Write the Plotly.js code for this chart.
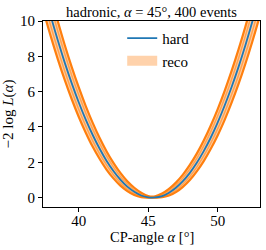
<!DOCTYPE html>
<html>
<head>
<meta charset="utf-8">
<script src="https://cdn.plot.ly/plotly-3.0.1.min.js"></script>
<style>html,body{margin:0;padding:0;background:#fff;}#chart{width:266px;height:250px;}</style>
</head>
<body>
<div id="chart"></div>
<script>
// CP-angle grid (degrees)
const alphaGrid = [37.0,37.5,38.0,38.5,39.0,39.5,40.0,40.5,41.0,41.5,42.0,42.5,43.0,43.5,44.0,44.5,45.0,45.5,46.0,46.5,47.0,47.5,48.0,48.5,49.0,49.5,50.0,50.5,51.0,51.5,52.0,52.5,53.0,53.5];
// -2 log L for the "hard" sample
const hardNLL = [13.25,11.70,10.25,8.89,7.63,6.47,5.40,4.43,3.56,2.78,2.09,1.51,1.02,0.62,0.33,0.12,0.02,0.01,0.09,0.28,0.56,0.93,1.40,1.97,2.63,3.39,4.25,5.20,6.25,7.39,8.63,9.97,11.40,12.93];
// "reco" band: outer (lower) and inner (upper) envelopes
const recoLow = [11.94,10.47,9.10,7.83,6.65,5.57,4.58,3.69,2.89,2.20,1.59,1.09,0.68,0.37,0.15,0.03,0,0,0.02,0.12,0.31,0.61,1.00,1.49,2.07,2.75,3.52,4.39,5.36,6.42,7.58,8.84,10.19,11.64];
const recoHigh = [14.56,12.93,11.40,9.97,8.63,7.39,6.25,5.20,4.25,3.39,2.63,1.97,1.40,0.93,0.56,0.28,0.09,0.07,0.23,0.49,0.85,1.30,1.85,2.49,3.23,4.07,5.00,6.03,7.16,8.38,9.69,11.11,12.62,14.22];
// individual reco curves inside the band
const recoMidLow = [12.62,11.11,9.69,8.38,7.16,6.03,5.00,4.07,3.23,2.49,1.85,1.30,0.85,0.49,0.23,0.07,0.00,0,0.05,0.19,0.43,0.77,1.20,1.73,2.36,3.08,3.89,4.81,5.82,6.92,8.13,9.42,10.82,12.31];
const recoMidHigh = [13.89,12.31,10.82,9.42,8.13,6.92,5.82,4.81,3.89,3.08,2.36,1.73,1.20,0.77,0.43,0.19,0.05,0.03,0.16,0.38,0.69,1.11,1.62,2.22,2.93,3.72,4.62,5.61,6.69,7.88,9.16,10.53,12.00,13.57];
const xTicks = [40,45,50];
const yTicks = [0,2,4,6,8,10];

const FONT = 'Liberation Serif, DejaVu Serif, serif';
const orange = '#ff7f0e';
const orangeFill = 'rgba(255,127,14,0.38)';
const orangeMid = 'rgba(255,127,14,0.55)';

const traces = [
  {x: alphaGrid, y: recoLow, mode: 'lines', line: {color: orange, width: 2.2, shape: 'spline'}, showlegend: false, hoverinfo: 'skip'},
  {x: alphaGrid, y: recoHigh, mode: 'lines', fill: 'tonexty', fillcolor: orangeFill, line: {color: orange, width: 2.2, shape: 'spline'}, showlegend: false, hoverinfo: 'skip'},
  {x: alphaGrid, y: recoMidLow, mode: 'lines', line: {color: orangeMid, width: 1.5, shape: 'spline'}, showlegend: false, hoverinfo: 'skip'},
  {x: alphaGrid, y: recoMidHigh, mode: 'lines', line: {color: orangeMid, width: 1.5, shape: 'spline'}, showlegend: false, hoverinfo: 'skip'},
  {x: alphaGrid, y: hardNLL, mode: 'lines', name: 'hard', line: {color: '#1f77b4', width: 1.8, shape: 'spline'}, legendrank: 1},
  {x: [null], y: [null], mode: 'lines', name: 'reco', line: {color: 'rgba(255,127,14,0.35)', width: 10}, legendrank: 2}
];

const layout = {
  width: 266, height: 250,
  margin: {l: 43, r: 6, t: 21, b: 43},
  paper_bgcolor: '#fff', plot_bgcolor: '#fff',
  font: {family: FONT, size: 15, color: '#000'},
  title: {text: 'hadronic, <i>α</i> = 45°, 400 events', font: {family: FONT, size: 14.5, color: '#000'}, x: 0.5, xref: 'paper', xanchor: 'center', y: 0.952, yanchor: 'middle'},
  xaxis: {
    range: [37.43, 53.05], tickvals: xTicks, ticktext: xTicks.map(String),
    ticks: 'outside', ticklen: 4, tickwidth: 1, tickcolor: '#000',
    ticklabelstandoff: -4,
    showline: true, linecolor: '#000', linewidth: 1, mirror: true,
    showgrid: false, zeroline: false,
    tickfont: {family: FONT, size: 15}
  },
  yaxis: {
    range: [-0.53, 10], tickvals: yTicks, ticktext: yTicks.map(String),
    ticks: 'outside', ticklen: 4, tickwidth: 1, tickcolor: '#000',
    showline: true, linecolor: '#000', linewidth: 1, mirror: true,
    showgrid: false, zeroline: false,
    tickfont: {family: FONT, size: 15},
    title: {text: '−2 log <i>L</i>(<i>α</i>)', font: {family: FONT, size: 15}}
  },
  annotations: [
    {text: 'CP-angle <i>α</i> [°]', xref: 'paper', yref: 'paper', x: 0.5, y: -0.163, xanchor: 'center', yanchor: 'middle', showarrow: false, font: {family: FONT, size: 14.5, color: '#000'}}
  ],
  legend: {x: 0.365, y: 0.995, xanchor: 'left', yanchor: 'top', bgcolor: 'rgba(255,255,255,0)', font: {family: FONT, size: 15}, traceorder: 'normal'},
  showlegend: true
};

Plotly.newPlot('chart', traces, layout, {displayModeBar: false, staticPlot: true});
</script>
</body>
</html>
